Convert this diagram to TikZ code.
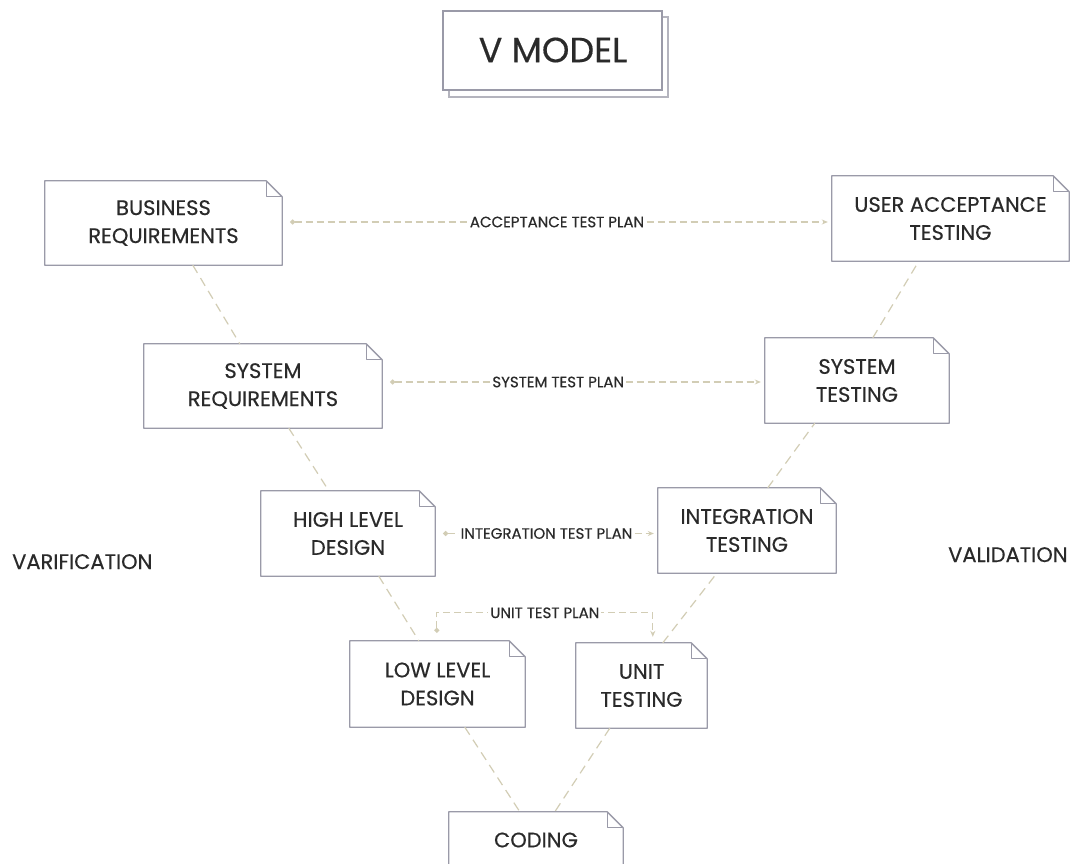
\documentclass[tikz,border=0pt]{standalone}
\usepackage{fontspec}
\setmainfont{Poppins}[FakeBold=0.4]
\usetikzlibrary{arrows.meta,calc}

\definecolor{boxline}{HTML}{9A9AA8}
\definecolor{boxback}{HTML}{B4B4BE}
\definecolor{link}{HTML}{D2CDB5}
\definecolor{ink}{HTML}{2A2A2A}

\tikzset{
  notetext/.style={draw=none, inner sep=0pt, align=center, text=ink,
    font=\fontsize{21}{28}\selectfont},
  noteline/.style={draw=boxline, line width=1.3pt, line join=round, fill=white},
  foldline/.style={draw=boxline, line width=1.3pt, line join=round},
  vlink/.style={draw=link, line width=1.2pt, dash pattern=on 9pt off 6pt},
  plan/.style={draw=link, line width=1.1pt, dash pattern=on 7pt off 4pt,
    {Circle[length=5pt]}-{Stealth[length=6pt,width=5pt]},
    shorten <=8pt, shorten >=4pt},
  planlabel/.style={fill=white, text=ink, inner sep=2pt,
    font=\fontsize{15}{17}\selectfont},
  sidelabel/.style={text=ink, inner sep=0pt, anchor=base west,
    font=\fontsize{21}{24}\selectfont},
}

% note box: name, x1, y1, x2, y2, text
\newcommand\notebox[6]{%
  \node[notetext, minimum width={#4pt-#2pt}, minimum height={#5pt-#3pt}]
    (#1) at ({(#2+#4)/2},{(#3+#5)/2}) {};
  \path[noteline] (#1.north west) -- ([xshift=-16pt]#1.north east)
    -- ([yshift=-16pt]#1.north east) -- (#1.south east)
    -- (#1.south west) -- cycle;
  \path[foldline] ([xshift=-16pt]#1.north east) |- ([yshift=-16pt]#1.north east);
  \node[notetext] at (#1.center) {#6};
}

\begin{document}
\begin{tikzpicture}[x=1pt,y=-1pt]
  \path[use as bounding box, fill=white] (0,0) rectangle (1071,864);
  \clip (0,0) rectangle (1071,864);

  % title card
  \draw[draw=boxback, line width=1.2pt, fill=white] (449,17) rectangle (668,97);
  \draw[draw=boxline, line width=1.2pt, fill=white] (443,11) rectangle (662,90);
  \node[text=ink, font=\fontsize{35}{40}\selectfont] (title) at (553,50) {V MODEL};

  % verification branch
  \notebox{br}{45}{181}{282}{265}{BUSINESS\\REQUIREMENTS}
  \notebox{sr}{144}{344}{382}{428}{SYSTEM\\REQUIREMENTS}
  \notebox{hld}{261}{491}{435}{576}{HIGH LEVEL\\DESIGN}
  \notebox{lld}{350}{641}{525}{727}{LOW LEVEL\\DESIGN}

  % coding at the bottom
  \notebox{cod}{449}{812}{623}{868}{CODING}

  % validation branch
  \notebox{ut}{576}{643}{707}{728}{UNIT\\TESTING}
  \notebox{it}{658}{488}{836}{573}{INTEGRATION\\TESTING}
  \notebox{st}{765}{338}{949}{423}{SYSTEM\\TESTING}
  \notebox{uat}{832}{176}{1069}{261}{USER ACCEPTANCE\\TESTING}

  % links along the V
  \draw[vlink] ([xshift=148pt]br.south west) -- ([xshift=96pt]sr.north west);
  \draw[vlink] ([xshift=145pt]sr.south west) -- ([xshift=68pt]hld.north west);
  \draw[vlink] ([xshift=118pt]hld.south west) -- ([xshift=69pt]lld.north west);
  \draw[vlink] ([xshift=115pt]lld.south west) -- ([xshift=71pt]cod.north west);
  \draw[vlink] ([xshift=34pt]ut.south west) -- ([xshift=106pt]cod.north west);
  \draw[vlink] ([xshift=87pt]ut.north west) -- ([xshift=59pt]it.south west);
  \draw[vlink] ([xshift=110pt]it.north west) -- ([xshift=50pt]st.south west);
  \draw[vlink] ([xshift=108pt]st.north west) -- ([xshift=87pt]uat.south west);

  % test plans
  \draw[plan] ([yshift=1pt]br.east) -- ([yshift=1pt]br.east -| uat.west)
    node[planlabel, midway] {ACCEPTANCE TEST PLAN};
  \draw[plan] ([yshift=4pt]sr.east) -- ([yshift=4pt]sr.east -| st.west)
    node[planlabel, pos=0.46] {SYSTEM TEST PLAN};
  \draw[plan] (hld.east) -- (hld.east -| it.west)
    node[planlabel, midway] {INTEGRATION TEST PLAN};
  \coordinate (ustart) at ([xshift=87pt,yshift=8pt]lld.north west);
  \coordinate (uend) at ([xshift=77pt,yshift=6pt]ut.north west);
  \draw[plan, shorten <=0pt, shorten >=0pt] (ustart) -- ++(0,-20) -| (uend)
    node[planlabel, pos=0.25] {UNIT TEST PLAN};

  % side captions
  \node[sidelabel] (ver) at (12,569) {VARIFICATION};
  \node[sidelabel] (val) at (948,562) {VALIDATION};
\end{tikzpicture}
\end{document}
